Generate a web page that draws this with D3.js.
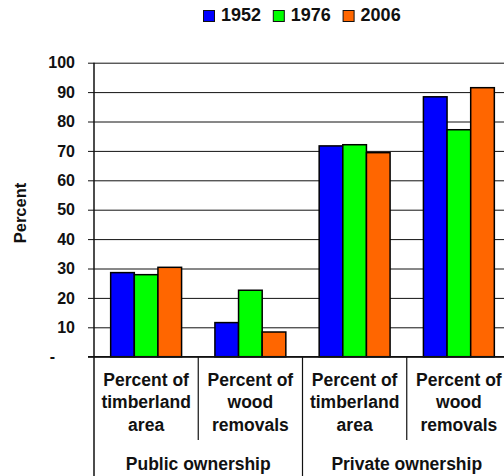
<!DOCTYPE html>
<html>
<head>
<meta charset="utf-8">
<script src="https://cdn.jsdelivr.net/npm/d3@7/dist/d3.min.js"></script>
<style>
  html, body { margin: 0; padding: 0; background: #fff; }
  svg { display: block; font-family: "Liberation Sans", Arial, sans-serif; font-weight: bold; }
</style>
</head>
<body>
<div id="chart"></div>
<script>
  const years = ['1952', '1976', '2006'];
  const colors = ['#0000ff', '#00ff00', '#ff6600'];
  const categoryLines = [
    ['Percent of', 'timberland', 'area'],
    ['Percent of', 'wood', 'removals'],
    ['Percent of', 'timberland', 'area'],
    ['Percent of', 'wood', 'removals']
  ];
  const groups = ['Public ownership', 'Private ownership'];
  const values1952 = [28.6, 11.6, 71.7, 88.4];
  const values1976 = [27.9, 22.6, 72.1, 77.2];
  const values2006 = [30.4, 8.4, 69.4, 91.5];
  const yTicks = [0, 10, 20, 30, 40, 50, 60, 70, 80, 90, 100];

  const seriesValues = [values1952, values1976, values2006];
  const catKeys = categoryLines.map((d, i) => 'c' + i);

  const width = 504;
  const height = 476;
  const margin = {top: 62.7, left: 94};
  const plotW = 417;
  const plotH = 294;

  const svg = d3.select('#chart')
    .append('svg')
    .attr('width', width)
    .attr('height', height);

  const g = svg.append('g')
    .attr('transform', `translate(${margin.left},${margin.top})`);

  const x0 = d3.scaleBand().domain(catKeys).range([0, plotW]).padding(0);
  const x1 = d3.scaleBand().domain(years).range([0, x0.bandwidth()])
    .paddingInner(0).paddingOuter(0.705);
  const y = d3.scaleLinear().domain([0, 100]).range([plotH, 0]);

  // grid
  g.append('g')
    .call(d3.axisLeft(y).tickValues(yTicks).tickSize(-plotW).tickFormat(''))
    .call((s) => s.select('.domain').remove())
    .call((s) => s.selectAll('line').attr('stroke', '#111').attr('stroke-width', 1));

  // bars
  const rows = catKeys.map((k, i) => ({key: k, vals: years.map((yr, j) => ({yr, j, v: seriesValues[j][i]}))}));
  g.selectAll('g.cat')
    .data(rows)
    .join('g')
    .attr('class', 'cat')
    .attr('transform', (d) => `translate(${x0(d.key)},0)`)
    .selectAll('rect')
    .data((d) => d.vals)
    .join('rect')
    .attr('x', (d) => x1(d.yr))
    .attr('y', (d) => y(d.v))
    .attr('width', x1.bandwidth())
    .attr('height', (d) => y(0) - y(d.v))
    .attr('fill', (d) => colors[d.j])
    .attr('stroke', '#000')
    .attr('stroke-width', 1.5);

  // y axis
  const yAxis = g.append('g')
    .call(d3.axisLeft(y).tickValues(yTicks).tickSize(6).tickPadding(13)
      .tickFormat((d) => (d === 0 ? '-' : d)));
  yAxis.select('.domain').remove();
  yAxis.selectAll('line').attr('stroke', '#111');
  yAxis.selectAll('text')
    .attr('font-size', 16)
    .attr('font-weight', 'bold')
    .attr('font-family', '"Liberation Sans", Arial, sans-serif')
    .attr('fill', '#111');
  yAxis.selectAll('.tick').filter((d) => d === 0).select('text').attr('dx', -20);

  // axis line + baseline
  g.append('line')
    .attr('x1', 0).attr('x2', 0)
    .attr('y1', 0).attr('y2', height - margin.top)
    .attr('stroke', '#111').attr('stroke-width', 1.5);
  g.append('line')
    .attr('x1', -6).attr('x2', plotW)
    .attr('y1', y(0)).attr('y2', y(0))
    .attr('stroke', '#111').attr('stroke-width', 1.5);

  // category dividers
  catKeys.forEach((k, i) => {
    if (i === 0) return;
    const isGroup = i % 2 === 0;
    g.append('line')
      .attr('x1', x0(k)).attr('x2', x0(k))
      .attr('y1', y(0)).attr('y2', isGroup ? height - margin.top : 440 - margin.top)
      .attr('stroke', '#111').attr('stroke-width', 1.2);
  });

  // category labels
  const lineY = [386, 408.5, 431];
  catKeys.forEach((k, i) => {
    const cx = x0(k) + x0.bandwidth() / 2;
    categoryLines[i].forEach((t, li) => {
      g.append('text')
        .attr('x', cx)
        .attr('y', lineY[li] - margin.top)
        .attr('text-anchor', 'middle')
        .attr('font-size', 17.5)
        .attr('fill', '#111')
        .text(t);
    });
  });

  // group labels
  groups.forEach((t, i) => {
    const gx = x0(catKeys[i * 2]);
    g.append('text')
      .attr('x', gx + x0.bandwidth())
      .attr('y', 470.5 - margin.top)
      .attr('text-anchor', 'middle')
      .attr('font-size', 17.5)
      .attr('fill', '#111')
      .text(t);
  });

  // y title
  svg.append('text')
    .attr('transform', 'translate(26,213) rotate(-90)')
    .attr('text-anchor', 'middle')
    .attr('font-size', 16.5)
    .attr('fill', '#111')
    .text('Percent');

  // legend
  const legend = svg.append('g').attr('transform', 'translate(203,0)');
  const items = legend.selectAll('g')
    .data(years)
    .join('g')
    .attr('transform', (d, i) => `translate(${i * 69.8},0)`);
  items.append('rect')
    .attr('x', 0.5).attr('y', 10.5)
    .attr('width', 11).attr('height', 11)
    .attr('fill', (d, i) => colors[i])
    .attr('stroke', '#111').attr('stroke-width', 1);
  items.append('text')
    .attr('x', 18)
    .attr('y', 20.8)
    .attr('font-size', 18)
    .attr('fill', '#111')
    .text((d) => d);
</script>
</body>
</html>
